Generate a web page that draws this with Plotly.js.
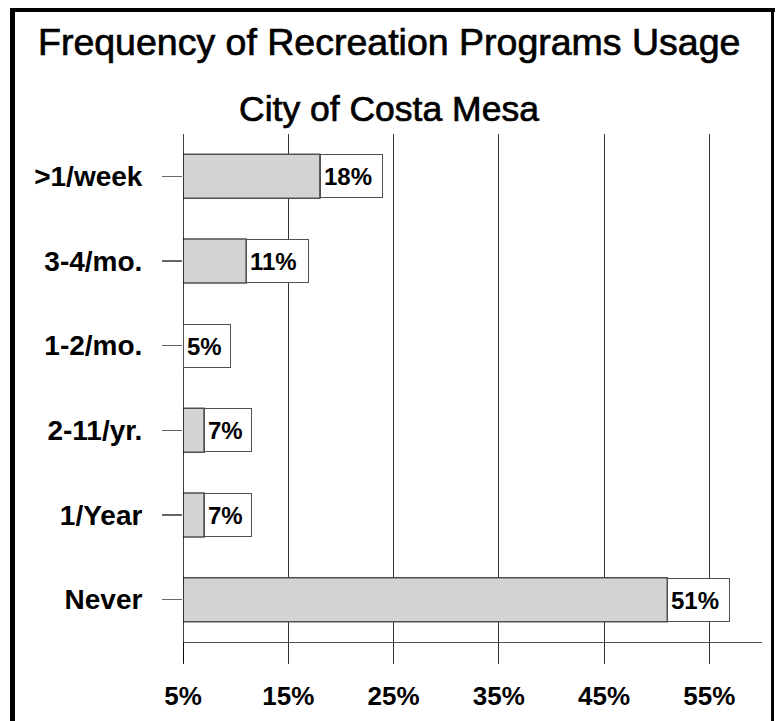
<!DOCTYPE html>
<html>
<head>
<meta charset="utf-8">
<script src="https://cdn.plot.ly/plotly-3.0.1.min.js"></script>
<style>
  html, body { margin: 0; padding: 0; background: #fff; }
  #chart { width: 777px; height: 721px; }
  /* slightly heavier strokes for the two heading lines */
  .annotation[data-index="0"] text, .annotation[data-index="1"] text {
    stroke: #000; stroke-width: 0.7px;
  }
</style>
</head>
<body>
<div id="chart"></div>
<script>
// Survey responses: how often residents use recreation programs
const categories = ['>1/week', '3-4/mo.', '1-2/mo.', '2-11/yr.', '1/Year', 'Never'];
const percents = [18, 11, 5, 7, 7, 51];
const xTickValues = [5, 15, 25, 35, 45, 55];
const xTickLabels = ['5%', '15%', '25%', '35%', '45%', '55%'];
const titleLines = ['Frequency of Recreation Programs Usage', 'City of Costa Mesa'];

const W = 777, H = 721;
const M = { l: 183, r: 15, t: 134, b: 79 };
const plotW = W - M.l - M.r, plotH = H - M.t - M.b;
// pixel -> paper helpers for decorations outside the plot area
const px = x => (x - M.l) / plotW;
const py = y => (H - M.b - y) / plotH;

const FONT = '"Liberation Sans", Arial, sans-serif';

const barTrace = {
  type: 'bar',
  orientation: 'h',
  x: percents,
  y: categories,
  width: 0.52,
  marker: {
    color: '#dcdcdc',
    line: { color: '#505050', width: 1.5 },
    pattern: { shape: '.', size: 2, solidity: 0.5, fgcolor: '#b8b8b8', bgcolor: '#e8e8e8' }
  },
  hoverinfo: 'skip'
};

// value boxes at the end of each bar
const valueBoxes = percents.map((v, i) => {
  const label = v + '%';
  return {
    x: v, y: categories[i], xref: 'x', yref: 'y',
    text: '<b>' + label + '</b>',
    showarrow: false,
    xanchor: 'left', yanchor: 'middle',
    align: 'left',
    width: 10 + 15 * label.length,
    height: 36,
    borderpad: 3,
    borderwidth: 1,
    bordercolor: '#505050',
    bgcolor: '#ffffff',
    font: { family: FONT, size: 24, color: '#000' }
  };
});

const titleAnnotations = titleLines.map((t, i) => ({
  x: px(W / 2), xref: 'paper', xanchor: 'center',
  y: py(i === 0 ? 42 : 109), yref: 'paper', yanchor: 'middle',
  text: t, showarrow: false,
  font: { family: FONT, size: i === 0 ? 37.5 : 35.5, color: '#000' }
}));

const frame = [
  { x0: px(12.5), x1: px(12.5), y0: py(8), y1: py(740), w: 5 },
  { x0: px(10), x1: px(775), y0: py(10), y1: py(10), w: 4 },
  { x0: px(772.5), x1: px(772.5), y0: py(8), y1: py(740), w: 3 }
].map(s => ({
  type: 'line', xref: 'paper', yref: 'paper',
  x0: s.x0, x1: s.x1, y0: s.y0, y1: s.y1,
  line: { color: '#000', width: s.w }
}));

const layout = {
  width: W, height: H,
  margin: M,
  paper_bgcolor: '#fff', plot_bgcolor: '#fff',
  showlegend: false,
  font: { family: FONT, color: '#000' },
  xaxis: {
    range: [5, 60],
    tickvals: xTickValues,
    ticktext: xTickLabels,
    showgrid: true, gridcolor: '#333', gridwidth: 1,
    zeroline: false,
    showline: true, linecolor: '#505050', linewidth: 1,
    ticks: 'outside', ticklen: 21, tickcolor: '#333', tickwidth: 1,
    ticklabelstandoff: 10,
    tickfont: { family: FONT, size: 26, color: '#000', weight: 'bold' },
    fixedrange: true
  },
  yaxis: {
    type: 'category',
    categoryorder: 'array', categoryarray: categories,
    range: [5.5, -0.5],
    showgrid: false, zeroline: false,
    showline: false,
    ticks: 'outside', ticklen: 20, tickcolor: '#666', tickwidth: 1.5,
    ticklabelstandoff: 14,
    tickfont: { family: FONT, size: 28, color: '#000', weight: 'bold' },
    fixedrange: true
  },
  shapes: [
    // left axis line running down through the 5% tick
    { type: 'line', xref: 'x', yref: 'paper', x0: 5, x1: 5, y0: py(663), y1: 1,
      line: { color: '#000', width: 1.5 } }
  ].concat(frame),
  annotations: titleAnnotations.concat(valueBoxes)
};

Plotly.newPlot('chart', [barTrace], layout, { displayModeBar: false, staticPlot: true });
</script>
</body>
</html>
